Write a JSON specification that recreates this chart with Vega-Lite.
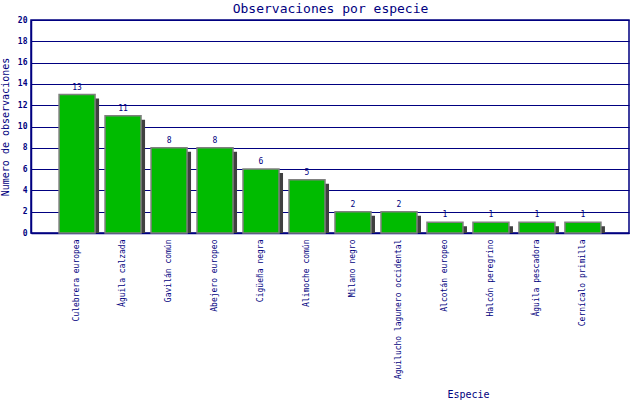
{
  "$schema": "https://vega.github.io/schema/vega-lite/v6.json",
  "autosize": "none",
  "width": 598,
  "height": 213,
  "padding": {"left": 31, "top": 20, "right": 11, "bottom": 167},
  "background": "white",
  "data": {
    "values": [
      {"especie": "Culebrera europea", "n": 13},
      {"especie": "Águila calzada", "n": 11},
      {"especie": "Gavilán común", "n": 8},
      {"especie": "Abejero europeo", "n": 8},
      {"especie": "Cigüeña negra", "n": 6},
      {"especie": "Alimoche común", "n": 5},
      {"especie": "Milano negro", "n": 2},
      {"especie": "Aguilucho lagunero occidental", "n": 2},
      {"especie": "Alcotán europeo", "n": 1},
      {"especie": "Halcón peregrino", "n": 1},
      {"especie": "Águila pescadora", "n": 1},
      {"especie": "Cernícalo primilla", "n": 1}
    ]
  },
  "encoding": {
    "y": {
      "field": "n",
      "type": "quantitative",
      "scale": {"domain": [0, 20]},
      "axis": {
        "title": "Numero de observaciones",
        "titleFont": "DejaVu Sans Mono",
        "titleFontSize": 10,
        "titleFontWeight": "normal",
        "titleColor": "#000080",
        "titlePadding": 7,
        "values": [0, 2, 4, 6, 8, 10, 12, 14, 16, 18, 20],
        "labelFont": "DejaVu Sans Mono",
        "labelFontSize": 8,
        "labelFontWeight": "bold",
        "labelColor": "#000080",
        "labelPadding": 4,
        "tickSize": 0,
        "domainColor": "#000080",
        "domainWidth": 1.5,
        "grid": true,
        "gridColor": "#000080",
        "gridWidth": 1.2,
        "gridOpacity": 1
      }
    }
  },
  "layer": [
    {
      "mark": {"type": "bar", "color": "#404040", "xOffset": 4, "yOffset": 4, "clip": true},
      "encoding": {
        "x": {
          "field": "especie",
          "type": "nominal",
          "sort": null,
          "scale": {"paddingInner": 0.217, "paddingOuter": 0.61},
          "axis": {
            "orient": "bottom",
            "title": "Especie",
            "titleX": 437,
            "titleY": 161,
            "titleBaseline": "middle",
            "titleFont": "DejaVu Sans Mono",
            "titleFontSize": 10,
            "titleFontWeight": "normal",
            "titleColor": "#000080",
            "labelAngle": -90,
            "labelFont": "DejaVu Sans Mono",
            "labelFontSize": 8,
            "labelColor": "#000080",
            "labelPadding": 6,
            "labelLimit": 200,
            "ticks": false,
            "domainColor": "#000080",
            "domainWidth": 1.5
          }
        }
      }
    },
    {
      "mark": {"type": "bar", "color": "#00bb00", "stroke": "#808080", "strokeWidth": 1.5},
      "encoding": {
        "x": {"field": "especie", "type": "nominal", "sort": null, "axis": null}
      }
    },
    {
      "mark": {
        "type": "text",
        "baseline": "bottom",
        "dy": -3,
        "font": "DejaVu Sans Mono",
        "fontSize": 8,
        "color": "#000080"
      },
      "encoding": {
        "x": {
          "field": "especie",
          "type": "nominal",
          "sort": null,
          "axis": {
            "orient": "top",
            "title": "Observaciones por especie",
            "titleFont": "DejaVu Sans Mono",
            "titleFontSize": 13,
            "titleFontWeight": "normal",
            "titleColor": "#000080",
            "titlePadding": 5,
            "labels": false,
            "ticks": false,
            "domain": false,
            "grid": false
          }
        },
        "text": {"field": "n", "type": "quantitative"}
      }
    }
  ],
  "resolve": {"axis": {"x": "independent"}},
  "config": {
    "view": {"stroke": "#000080", "strokeWidth": 1.5}
  }
}
